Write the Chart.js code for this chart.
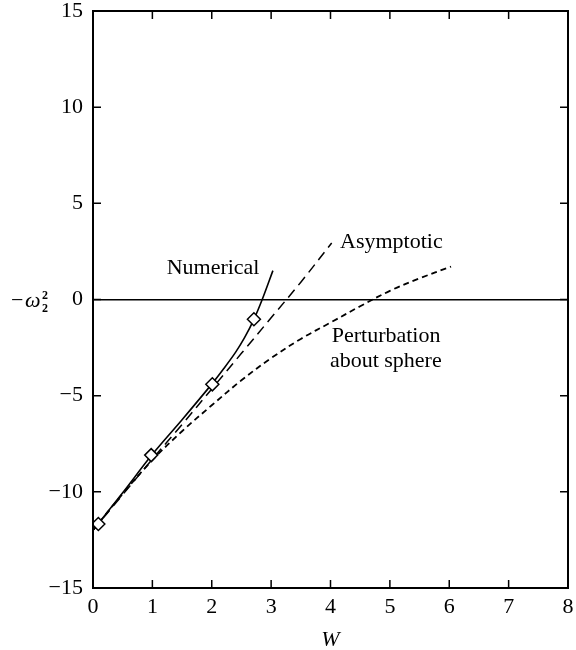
<!DOCTYPE html>
<html>
<head>
<meta charset="utf-8">
<script src="https://cdn.jsdelivr.net/npm/chart.js@4.4.0/dist/chart.umd.min.js"></script>
<style>
  html, body { margin: 0; padding: 0; background: #fff; }
  #wrap { width: 576px; height: 650px; }
</style>
</head>
<body>
<div id="wrap"><canvas id="chart"></canvas></div>
<script>
// numerical solution (solid) and its computed points
var numW = [0, 0.5, 1, 1.5, 2, 2.2, 2.4, 2.55, 2.71, 2.85, 3.03];
var numVal = [-12.0, -10.05, -8.05, -6.25, -4.4, -3.6, -2.75, -2.0, -1.03, 0, 1.5];
var markW = [0.09, 0.98, 2.01, 2.71];
var markVal = [-11.67, -8.09, -4.41, -1.03];

// asymptotic (long dash)
var asyW = [0, 0.5, 1, 1.5, 2, 2.5, 3, 3.5, 4.02];
var asyVal = [-12.0, -10.15, -8.3, -6.5, -4.65, -2.8, -0.95, 0.9, 2.94];

// perturbation about sphere (short dash)
var pertW = [0, 0.5, 1, 1.5, 2, 2.5, 3, 3.5, 4, 4.5, 5, 5.5, 6.03];
var pertVal = [-12.0, -10.1, -8.35, -6.85, -5.5, -4.2, -3.05, -2.05, -1.2, -0.35, 0.45, 1.1, 1.71];

var xTicks = [0, 1, 2, 3, 4, 5, 6, 7, 8];
var yTicks = [-15, -10, -5, 0, 5, 10, 15];

// curve labels, anchored in data units (left edge, baseline)
var labelText = ['Numerical', 'Asymptotic', 'Perturbation', 'about sphere'];
var labelW = [1.24, 4.16, 4.02, 3.99];
var labelVal = [1.33, 2.69, -2.19, -3.49];

function pts(xs, ys) {
    var out = [];
    for (let i = 0; i < xs.length; i++) {
        out.push({x: xs[i], y: ys[i]});
    }
    return out;
}

var serif = "'Liberation Serif', 'DejaVu Serif', serif";

var framePlugin = {
    id: 'frame',
    afterDatasetsDraw: function(chart) {
        var ctx = chart.ctx;
        var a = chart.chartArea;
        var xs = chart.scales.x, ys = chart.scales.y;
        ctx.save();
        ctx.strokeStyle = '#000';
        ctx.lineWidth = 2;
        ctx.strokeRect(a.left, a.top, a.right - a.left, a.bottom - a.top);
        ctx.lineWidth = 1.5;
        var t = 8;
        ctx.beginPath();
        for (let i = 0; i < xTicks.length; i++) {
            var px = xs.getPixelForValue(xTicks[i]);
            ctx.moveTo(px, a.bottom); ctx.lineTo(px, a.bottom - t);
            ctx.moveTo(px, a.top); ctx.lineTo(px, a.top + t);
        }
        for (let i = 0; i < yTicks.length; i++) {
            var py = ys.getPixelForValue(yTicks[i]);
            ctx.moveTo(a.left, py); ctx.lineTo(a.left + t, py);
            ctx.moveTo(a.right, py); ctx.lineTo(a.right - t, py);
        }
        ctx.stroke();

        // curve labels
        ctx.fillStyle = '#000';
        ctx.font = '22px ' + serif;
        ctx.textBaseline = 'alphabetic';
        ctx.textAlign = 'left';
        for (let i = 0; i < labelText.length; i++) {
            ctx.fillText(labelText[i], xs.getPixelForValue(labelW[i]), ys.getPixelForValue(labelVal[i]));
        }

        // x title
        ctx.font = 'italic 22px ' + serif;
        ctx.textAlign = 'center';
        ctx.fillText('W', xs.getPixelForValue(4), 646);

        // y title: -omega with stacked sub/superscript 2
        var y0 = ys.getPixelForValue(0);
        ctx.textAlign = 'left';
        ctx.font = '22px ' + serif;
        ctx.fillText('\u2212', 11, y0 + 7);
        ctx.font = 'italic 22px ' + serif;
        ctx.fillText('\u03c9', 25, y0 + 7);
        ctx.font = 'bold 12px ' + serif;
        ctx.fillText('2', 42, y0 - 1);
        ctx.fillText('2', 42, y0 + 12);
        ctx.restore();
    }
};

var ctx = document.getElementById('chart').getContext('2d');
var chart = new Chart(ctx, {
    type: 'scatter',
    data: {
        datasets: [{
            label: 'Numerical',
            data: pts(numW, numVal),
            showLine: true,
            borderColor: '#000',
            borderWidth: 1.6,
            pointRadius: 0,
            tension: 0.35,
            order: 2
        }, {
            label: 'Numerical points',
            data: pts(markW, markVal),
            showLine: false,
            pointStyle: 'rectRot',
            pointRadius: 6.5,
            pointBorderWidth: 1.5,
            pointBackgroundColor: '#fff',
            pointBorderColor: '#000',
            order: 0
        }, {
            label: 'Asymptotic',
            data: pts(asyW, asyVal),
            showLine: true,
            borderColor: '#000',
            borderWidth: 1.5,
            borderDash: [10, 6],
            pointRadius: 0,
            tension: 0.35,
            order: 3
        }, {
            label: 'Perturbation about sphere',
            data: pts(pertW, pertVal),
            showLine: true,
            borderColor: '#000',
            borderWidth: 1.8,
            borderDash: [6, 4],
            pointRadius: 0,
            tension: 0.35,
            order: 4
        }]
    },
    options: {
        responsive: true,
        maintainAspectRatio: false,
        animation: false,
        layout: { padding: { top: 11, right: 5, left: 0, bottom: 0 } },
        plugins: {
            legend: { display: false },
            tooltip: { enabled: false }
        },
        scales: {
            x: {
                type: 'linear',
                min: 0,
                max: 8,
                afterFit: function(scale) {
                    scale.height = 62;
                    scale.paddingLeft = 0;
                    scale.paddingRight = 0;
                },
                afterBuildTicks: function(scale) {
                    scale.ticks = xTicks.map(function(v) { return {value: v}; });
                },
                border: { display: false },
                grid: { display: false, drawTicks: false },
                ticks: {
                    color: '#000',
                    padding: 6,
                    font: { family: serif, size: 22 }
                }
            },
            y: {
                type: 'linear',
                min: -15,
                max: 15,
                afterFit: function(scale) {
                    scale.width = 93;
                    scale.paddingTop = 0;
                    scale.paddingBottom = 0;
                },
                afterBuildTicks: function(scale) {
                    scale.ticks = yTicks.map(function(v) { return {value: v}; });
                },
                border: { display: false },
                grid: {
                    drawTicks: false,
                    lineWidth: 1.5,
                    color: function(c) { return c.tick && c.tick.value === 0 ? '#000' : 'rgba(0,0,0,0)'; }
                },
                ticks: {
                    color: '#000',
                    padding: 10,
                    font: { family: serif, size: 22 },
                    callback: function(v) { return v < 0 ? '\u2212' + Math.abs(v) : String(v); }
                }
            }
        }
    },
    plugins: [framePlugin]
});
</script>
</body>
</html>
